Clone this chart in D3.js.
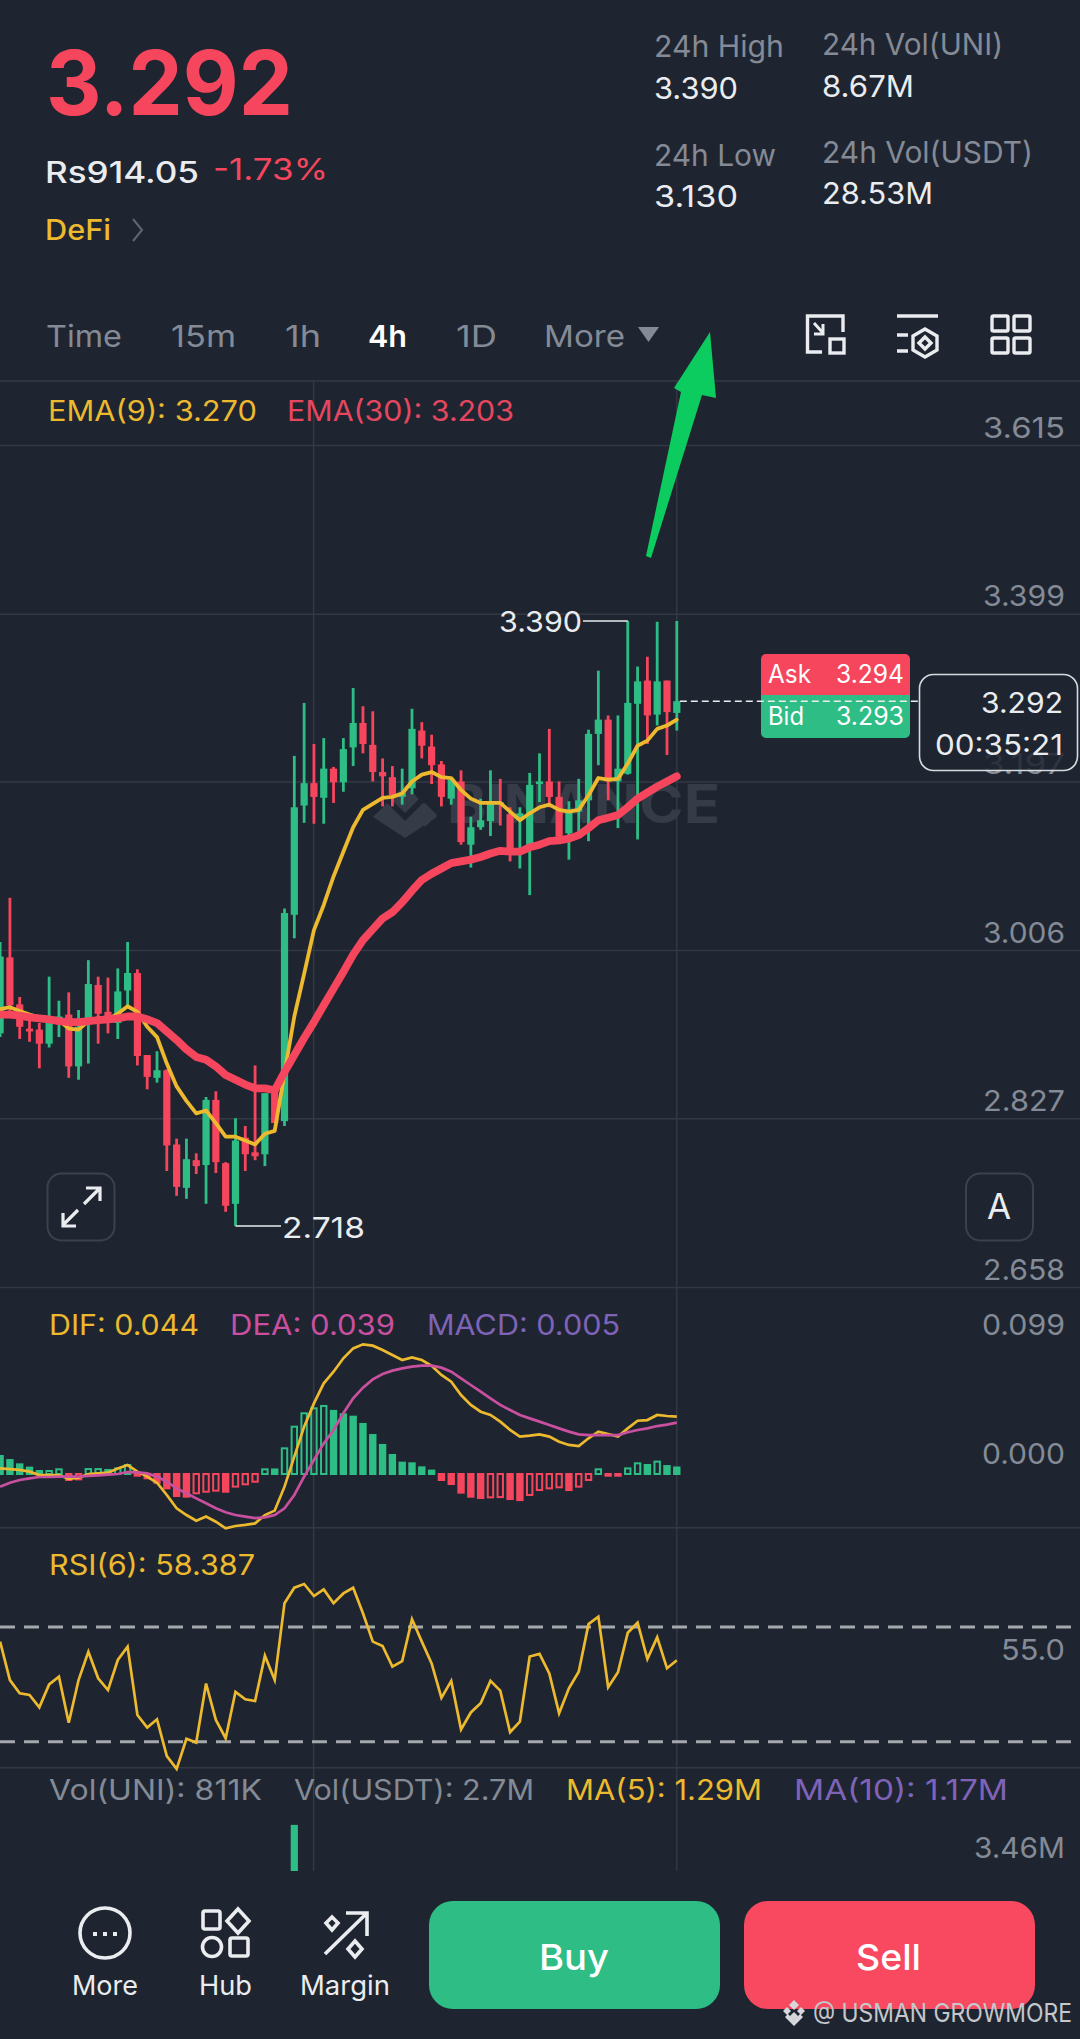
<!DOCTYPE html>
<html>
<head>
<meta charset="utf-8">
<script src="https://cdn.jsdelivr.net/npm/d3@7"></script>
<style>
  html, body { margin: 0; padding: 0; background: #1e2530; }
  svg { display: block; }
  text { font-family: Inter, "Noto Sans", sans-serif; }
</style>
</head>
<body>
<div id="chart"></div>
<script>
// candles, oldest first
const candleOpen = [2.916,2.998,2.947,2.921,2.920,2.905,2.927,2.936,2.881,2.930,2.968,2.939,2.927,2.962,2.981,2.893,2.869,2.877,2.800,2.756,2.784,2.779,2.846,2.781,2.740,2.807,2.792,2.790,2.856,2.824,3.045,3.169,3.195,3.178,3.212,3.196,3.237,3.266,3.240,3.208,3.202,3.179,3.189,3.257,3.238,3.217,3.177,3.197,3.124,3.144,3.151,3.173,3.159,3.152,3.120,3.194,3.197,3.179,3.137,3.162,3.175,3.253,3.270,3.197,3.206,3.289,3.317,3.276,3.317,3.278];
const candleHigh = [3.015,3.064,2.955,2.930,2.927,2.977,2.951,2.960,2.941,2.995,2.977,2.976,2.986,3.015,2.985,2.893,2.897,2.878,2.806,2.806,2.791,2.849,2.855,2.782,2.827,2.819,2.882,2.853,2.856,3.052,3.227,3.290,3.241,3.248,3.214,3.248,3.308,3.286,3.280,3.224,3.215,3.212,3.283,3.267,3.252,3.221,3.202,3.210,3.156,3.177,3.210,3.200,3.167,3.167,3.207,3.230,3.259,3.197,3.174,3.200,3.258,3.329,3.275,3.275,3.390,3.334,3.346,3.389,3.317,3.390];
const candleLow = [2.912,2.934,2.910,2.907,2.879,2.901,2.912,2.869,2.867,2.884,2.905,2.916,2.910,2.945,2.882,2.857,2.864,2.773,2.748,2.745,2.770,2.740,2.771,2.732,2.718,2.773,2.784,2.778,2.822,2.819,3.019,3.149,3.148,3.148,3.172,3.185,3.215,3.230,3.197,3.168,3.168,3.170,3.182,3.224,3.194,3.168,3.170,3.124,3.098,3.141,3.134,3.146,3.105,3.097,3.067,3.173,3.167,3.132,3.107,3.137,3.128,3.216,3.175,3.143,3.205,3.130,3.241,3.263,3.228,3.257];
const candleClose = [2.999,2.946,2.923,2.918,2.905,2.927,2.934,2.881,2.923,2.969,2.937,2.927,2.961,2.981,2.892,2.870,2.877,2.799,2.757,2.785,2.778,2.846,2.782,2.738,2.804,2.790,2.788,2.853,2.822,3.047,3.167,3.195,3.179,3.212,3.196,3.235,3.266,3.241,3.208,3.203,3.181,3.184,3.259,3.239,3.216,3.179,3.199,3.127,3.144,3.152,3.173,3.171,3.118,3.160,3.193,3.197,3.179,3.133,3.164,3.175,3.253,3.270,3.197,3.212,3.290,3.316,3.275,3.316,3.279,3.292];
const ema9 = [2.942,2.944,2.940,2.936,2.933,2.932,2.930,2.921,2.920,2.929,2.932,2.931,2.937,2.945,2.939,2.923,2.912,2.884,2.860,2.845,2.832,2.835,2.822,2.808,2.808,2.804,2.800,2.811,2.814,2.874,2.934,2.980,3.028,3.056,3.088,3.116,3.144,3.164,3.171,3.178,3.179,3.183,3.197,3.205,3.208,3.202,3.201,3.187,3.177,3.172,3.172,3.172,3.162,3.152,3.160,3.167,3.170,3.164,3.162,3.164,3.181,3.201,3.199,3.200,3.218,3.239,3.245,3.259,3.263,3.270];
const ema30 = [2.936,2.936,2.935,2.933,2.932,2.931,2.929,2.928,2.928,2.929,2.930,2.931,2.932,2.934,2.934,2.931,2.927,2.918,2.909,2.899,2.891,2.888,2.881,2.872,2.867,2.862,2.858,2.858,2.856,2.875,2.893,2.911,2.928,2.946,2.964,2.982,3.001,3.017,3.029,3.041,3.048,3.059,3.072,3.084,3.091,3.097,3.103,3.105,3.107,3.110,3.114,3.117,3.116,3.116,3.121,3.124,3.128,3.129,3.131,3.135,3.143,3.152,3.155,3.158,3.167,3.177,3.184,3.191,3.197,3.203];

const macdDif = [.0043,.0038,.0031,.0018,-.0008,-.0008,-.0008,-.0038,-.0028,0,.0005,.0010,.0043,.0069,.0018,-.0020,-.0067,-.0161,-.0263,-.0315,-.0358,-.0327,-.0366,-.0417,-.0399,-.0391,-.0379,-.0315,-.0281,-.0097,.0133,.0363,.0542,.0696,.0785,.0888,.0964,.0995,.0985,.0952,.0913,.0875,.0895,.0875,.0831,.0760,.0709,.0606,.0530,.0478,.0453,.0402,.0338,.0287,.0294,.0304,.0287,.0248,.0223,.0215,.0274,.0325,.0307,.0287,.0350,.0409,.0414,.0453,.0445,.0440];
const macdDea = [-.0097,-.0067,-.0046,-.0033,-.0023,-.0023,-.0020,-.0020,-.0020,-.0015,-.0010,-.0005,0,.0015,.0013,.0005,-.0020,-.0059,-.0110,-.0148,-.0187,-.0225,-.0263,-.0294,-.0315,-.0327,-.0338,-.0333,-.0315,-.0263,-.0161,-.0020,.0107,.0235,.0338,.0466,.0581,.0663,.0726,.0767,.0793,.0811,.0824,.0831,.0831,.0816,.0785,.0734,.0683,.0632,.0581,.0530,.0491,.0453,.0427,.0402,.0376,.0350,.0325,.0304,.0299,.0299,.0299,.0299,.0320,.0338,.0350,.0368,.0379,.0394];
const macdHist = [.0138,.0107,.0074,.0049,.0023,.0023,.0036,-.0046,-.0041,.0038,.0038,.0031,.0043,.0069,-.0013,-.0033,-.0067,-.0110,-.0169,-.0174,-.0148,-.0136,-.0128,-.0136,-.0097,-.0079,-.0059,.0036,.0035,.0197,.0363,.0466,.0504,.0522,.0484,.0458,.0440,.0384,.0299,.0223,.0146,.0087,.0082,.0051,.0026,-.0046,-.0077,-.0143,-.0174,-.0184,-.0179,-.0177,-.0192,-.0200,-.0161,-.0123,-.0110,-.0102,-.0123,-.0097,-.0046,.0036,-.0013,-.0013,.0043,.0082,.0069,.0095,.0061,.0050];
const rsi6 = [64.9,51.5,46.9,46.3,42.0,50.0,52.7,36.6,51.5,61.4,52.1,48.0,58.5,63.1,39.3,34.9,37.8,25.0,20.5,31.0,29.7,50.3,37.6,31.2,47.4,44.8,44.2,60.0,51.5,78.3,83.7,85.0,80.8,83.1,78.3,81.7,83.7,74.8,64.9,63.4,56.2,58.1,72.7,64.9,57.3,45.3,51.2,34.3,40.2,43.4,51.2,47.8,33.3,37.0,59.7,60.6,53.8,39.9,48.6,54.4,71.0,73.6,49.0,54.2,68.0,71.5,58.8,66.4,55.6,58.387];

// only one volume bar reaches the visible strip of the volume pane
const volIndex = [30];
const volValue = [4.59];

const priceTicks = [3.615, 3.399, 3.197, 3.006, 2.827, 2.658];
const macdTicks = [0.099, 0];
const rsiLevels = [70, 30];
const rsiTicks = [55];
const volTicks = [3.46];

const tabs = ["Time", "15m", "1h", "4h", "1D", "More"];

const config = {
    bg: "#1e2530",
    grid: "#333944",
    up: "#2ebd85",
    down: "#f6465d",
    yellow: "#ecb92f",
    pink: "#c9509f",
    purple: "#7f63b8",
    gray: "#848a96",
    white: "#eaecef"
};

const W = 1080, H = 2039;
const svg = d3.select("#chart").append("svg")
    .attr("width", W).attr("height", H)
    .style("background", config.bg);

const x = d3.scaleLinear().domain([0, candleClose.length - 1]).range([0.1, 676.8]);
const priceY = d3.scaleLog().domain([2.658, 3.615]).range([1287, 445]);
const macdY = d3.scaleLinear().domain([0, 0.099]).range([1474, 1345]);
const rsiY = d3.scaleLinear().domain([30, 70]).range([1741.7, 1627]);
const volY = d3.scaleLinear().domain([0, 3.46]).range([2000, 1868]);

// fits the string between x0 and x1, the picture is squeezed a bit sideways
const label = (str, x0, x1, y, size, color, weight) => {
    const t = svg.append("text")
        .attr("x", x0).attr("y", y)
        .attr("font-size", size)
        .attr("font-weight", weight || 400)
        .attr("fill", color)
        .text(str);
    if (x1) {
        t.attr("textLength", x1 - x0).attr("lengthAdjust", "spacingAndGlyphs");
    }
    return t;
};

const labelEnd = (str, x1, w, y, size, color, weight) => label(str, x1 - w, x1, y, size, color, weight);

const drawAxis = (scale, ticks, fmt, gridOn, dy, textW) => {
    const g = svg.append("g").attr("class", "axis")
        .call(d3.axisRight(scale).tickValues(ticks).tickSize(W).tickFormat(fmt));
    g.select(".domain").remove();
    g.selectAll("line").attr("stroke", gridOn ? config.grid : "none").attr("stroke-width", 1.5);
    g.selectAll("text")
        .attr("x", 1065).attr("dy", dy)
        .attr("text-anchor", "end")
        .attr("fill", config.gray)
        .attr("font-size", 29)
        .attr("textLength", textW)
        .attr("lengthAdjust", "spacingAndGlyphs")
        .attr("font-family", "Inter, 'Noto Sans', sans-serif");
    return g;
};

// pane separators and vertical grid
[381, 1527.7, 1767.7].forEach(y => {
    svg.append("line").attr("x1", 0).attr("x2", W).attr("y1", y).attr("y2", y)
        .attr("stroke", config.grid).attr("stroke-width", 1.5);
});
[313.6, 676.8].forEach(vx => {
    svg.append("line").attr("x1", vx).attr("x2", vx).attr("y1", 381).attr("y2", 1871)
        .attr("stroke", config.grid).attr("stroke-width", 1.5);
});

// watermark
svg.append("path").attr("d", "M405 785l14 14-14 14-14-14zM373 817l14-14 18 18 18-18 14 14-32 21zM425 803l12 12-12 12-12-12z")
    .attr("fill", "#353c48");
label("BINANCE", 447, 720, 823, 53, "#353c48", 700);

drawAxis(priceY, priceTicks, d3.format(".3f"), true, "-8", 82);

// candles
const candleIdx = d3.range(candleClose.length);
const isUp = i => candleClose[i] >= candleOpen[i];
const candles = svg.append("g").selectAll("g").data(candleIdx).enter().append("g");
candles.append("line")
    .attr("x1", i => x(i)).attr("x2", i => x(i))
    .attr("y1", i => priceY(candleHigh[i])).attr("y2", i => priceY(candleLow[i]))
    .attr("stroke", i => isUp(i) ? config.up : config.down)
    .attr("stroke-width", 2.8);
candles.append("rect")
    .attr("x", i => x(i) - 3.6).attr("width", 7.2)
    .attr("y", i => priceY(Math.max(candleOpen[i], candleClose[i])))
    .attr("height", i => Math.max(2, priceY(Math.min(candleOpen[i], candleClose[i])) - priceY(Math.max(candleOpen[i], candleClose[i]))))
    .attr("fill", i => isUp(i) ? config.up : config.down);

const priceLine = d3.line().x((d, i) => x(i)).y(d => priceY(d));
svg.append("path").datum(ema9).attr("d", priceLine)
    .attr("fill", "none").attr("stroke", config.yellow).attr("stroke-width", 3.8)
    .attr("stroke-linejoin", "round").attr("stroke-linecap", "round");
svg.append("path").datum(ema30).attr("d", priceLine)
    .attr("fill", "none").attr("stroke", config.down).attr("stroke-width", 7.8)
    .attr("stroke-linejoin", "round").attr("stroke-linecap", "round");

// high and low markers
const hiIdx = candleHigh.indexOf(d3.max(candleHigh));
const loIdx = candleLow.indexOf(d3.min(candleLow));
svg.append("path")
    .attr("d", `M${x(hiIdx)} ${priceY(candleHigh[hiIdx])}H583`)
    .attr("stroke", config.white).attr("stroke-width", 1.5).attr("fill", "none");
label(d3.format(".3f")(candleHigh[hiIdx]), 499, 582, 632, 29, config.white);
svg.append("path")
    .attr("d", `M${x(loIdx)} ${priceY(candleLow[loIdx])}H281`)
    .attr("stroke", config.white).attr("stroke-width", 1.5).attr("fill", "none");
label(d3.format(".3f")(candleLow[loIdx]), 282, 365, 1238, 29, config.white);

// ask / bid / last price tag
svg.append("path").attr("d", "M761 695V659a5 5 0 0 1 5-5H905a5 5 0 0 1 5 5V695Z").attr("fill", config.down);
svg.append("path").attr("d", "M761 695H910V733a5 5 0 0 1-5 5H766a5 5 0 0 1-5-5Z").attr("fill", config.up);
label("Ask", 768, 811, 683, 25, "#fff");
label("3.294", 836, 904, 683, 25, "#fff");
label("Bid", 768, 804, 725, 25, "#fff");
label("3.293", 836, 904, 725, 25, "#fff");
svg.append("line").attr("x1", x(69) + 3).attr("x2", 918)
    .attr("y1", priceY(candleClose[69])).attr("y2", priceY(candleClose[69]))
    .attr("stroke", config.white).attr("stroke-width", 1.5).attr("stroke-dasharray", "7 4");
svg.append("rect").attr("x", 919.5).attr("y", 674.5).attr("width", 158).attr("height", 96).attr("rx", 14)
    .attr("fill", config.bg).attr("fill-opacity", 0.85)
    .attr("stroke", "#d8dadd").attr("stroke-width", 1.6);
labelEnd("3.292", 1063, 82, 713, 29, config.white);
labelEnd("00:35:21", 1063, 128, 755, 29, config.white);

// expand and auto buttons
svg.append("rect").attr("x", 47.5).attr("y", 1173.5).attr("width", 67).attr("height", 67).attr("rx", 14)
    .attr("fill", "none").attr("stroke", "#3b414d").attr("stroke-width", 2);
svg.append("path").attr("d", "M63 1225L78 1210M63 1213V1226H76M99 1189L84 1204M86 1188H100V1201")
    .attr("fill", "none").attr("stroke", config.white).attr("stroke-width", 3.2);
svg.append("rect").attr("x", 966).attr("y", 1173.5).attr("width", 67).attr("height", 67).attr("rx", 14)
    .attr("fill", "none").attr("stroke", "#3b414d").attr("stroke-width", 2);
svg.append("text").attr("x", 999).attr("y", 1219).attr("text-anchor", "middle")
    .attr("font-size", 35).attr("fill", config.white).text("A");

// MACD pane
drawAxis(macdY, macdTicks, d3.format(".3f"), false, "-11", 83);
svg.append("g").selectAll("rect").data(macdHist).enter().append("rect")
    .attr("x", (d, i) => x(i) - 2.7).attr("width", 5.4)
    .attr("y", d => macdY(Math.max(d, 0)))
    .attr("height", d => Math.abs(macdY(d) - macdY(0)))
    .attr("fill", (d, i) => (i > 0 && d >= macdHist[i - 1]) ? "none" : (d >= 0 ? config.up : config.down))
    .attr("stroke", d => d >= 0 ? config.up : config.down)
    .attr("stroke-width", 2);
const macdLine = d3.line().x((d, i) => x(i)).y(d => macdY(d));
svg.append("path").datum(macdDif).attr("d", macdLine).attr("fill", "none")
    .attr("stroke", config.yellow).attr("stroke-width", 2.7);
svg.append("path").datum(macdDea).attr("d", macdLine).attr("fill", "none")
    .attr("stroke", config.pink).attr("stroke-width", 2.7);

// RSI pane
rsiLevels.forEach(v => {
    svg.append("line").attr("x1", 0).attr("x2", W).attr("y1", rsiY(v)).attr("y2", rsiY(v))
        .attr("stroke", "#a5a8ac").attr("stroke-width", 3).attr("stroke-dasharray", "15 9");
});
drawAxis(rsiY, rsiTicks, d3.format(".1f"), false, "-11", 64);
svg.append("path").datum(rsi6)
    .attr("d", d3.line().x((d, i) => x(i)).y(d => rsiY(d)))
    .attr("fill", "none").attr("stroke", config.yellow).attr("stroke-width", 2.7);

// volume pane, cut off by the bottom bar
svg.append("clipPath").attr("id", "volClip").append("rect")
    .attr("x", 0).attr("y", 1768).attr("width", W).attr("height", 103);
svg.append("g").attr("clip-path", "url(#volClip)").selectAll("rect").data(volIndex).enter().append("rect")
    .attr("x", i => x(i) - 3.6).attr("width", 7.2)
    .attr("y", (d, k) => volY(volValue[k]))
    .attr("height", (d, k) => volY(0) - volY(volValue[k]))
    .attr("fill", config.up);
drawAxis(volY, volTicks, d => d3.format(".2f")(d) + "M", false, "-11", 91);

// header
label("3.292", 46, 293, 115, 90, config.down, 700);
label("Rs914.05", 45, 199, 183, 30, config.white, 500);
label("-1.73%", 213, 328, 180, 30, config.down);
label("DeFi", 45, 111, 240, 28, config.yellow, 500);
svg.append("path").attr("d", "M133 219L142 230L133 241").attr("fill", "none")
    .attr("stroke", "#5e6673").attr("stroke-width", 2);

label("24h High", 654, 784, 57, 30, config.gray);
label("3.390", 654, 738, 99, 30, config.white);
label("24h Low", 654, 776, 166, 30, config.gray);
label("3.130", 654, 738, 207, 30, config.white);
label("24h Vol(UNI)", 822, 1003, 55, 30, config.gray);
label("8.67M", 822, 914, 97, 30, config.white);
label("24h Vol(USDT)", 822, 1033, 163, 30, config.gray);
label("28.53M", 822, 933, 204, 30, config.white);

// interval tabs
const tabX0 = [46, 171, 285, 368, 456, 544];
const tabX1 = [122, 236, 321, 407, 497, 625];
tabs.forEach((t, i) => {
    label(t, tabX0[i], tabX1[i], 347, 30, t === "4h" ? "#fff" : config.gray, t === "4h" ? 600 : 400);
});
svg.append("path").attr("d", "M638 327H659L648.5 342Z").attr("fill", config.gray);

// tool icons
const icons = svg.append("g").attr("fill", "none").attr("stroke", config.white).attr("stroke-width", 3.4);
icons.append("path").attr("d", "M822 352H807.5V316H843V332");
icons.append("rect").attr("x", 830).attr("y", 339).attr("width", 14).attr("height", 14);
icons.append("path").attr("d", "M814 323L823 333M823 324V334H814").attr("stroke-width", 3);
icons.append("path").attr("d", "M897 316H938M897 335H908M897 351H908");
icons.append("path").attr("d", "M925 329L937 336V350L925 357L913 350V336Z");
icons.append("path").attr("d", "M925 337L931 343L925 349L919 343Z");
[[992, 316], [1014, 316], [992, 338], [1014, 338]].forEach(p => {
    icons.append("rect").attr("x", p[0]).attr("y", p[1]).attr("width", 16).attr("height", 15).attr("rx", 1.5);
});

// hand drawn green arrow on the screenshot
svg.append("path")
    .attr("d", "M710 332L716 398L702 395L651 558L646 556L681 392L674 388Z")
    .attr("fill", "#0ccb5f");

// pane titles
label("EMA(9): 3.270", 48, 257, 421, 28, config.yellow);
label("EMA(30): 3.203", 287, 514, 421, 28, "#e4475f");
label("DIF: 0.044", 49, 199, 1335, 28, config.yellow);
label("DEA: 0.039", 230, 395, 1335, 28, config.pink);
label("MACD: 0.005", 427, 620, 1335, 28, config.purple);
label("RSI(6): 58.387", 49, 255, 1575, 28, config.yellow);
label("Vol(UNI): 811K", 49, 262, 1800, 28, config.gray);
label("Vol(USDT): 2.7M", 294, 534, 1800, 28, config.gray);
label("MA(5): 1.29M", 566, 762, 1800, 28, config.yellow);
label("MA(10): 1.17M", 794, 1008, 1800, 28, config.purple);

// bottom bar
const nav = svg.append("g").attr("fill", "none").attr("stroke", config.white).attr("stroke-width", 3.6);
nav.append("circle").attr("cx", 105).attr("cy", 1933).attr("r", 25);
[95, 105, 115].forEach(cx => {
    svg.append("rect").attr("x", cx - 2).attr("y", 1932).attr("width", 4).attr("height", 4).attr("fill", config.white);
});
nav.append("rect").attr("x", 203).attr("y", 1911).attr("width", 17).attr("height", 18).attr("rx", 2);
nav.append("path").attr("d", "M238 1909L249 1921L238 1933L227 1921Z");
nav.append("circle").attr("cx", 212).attr("cy", 1947).attr("r", 9.5);
nav.append("rect").attr("x", 230).attr("y", 1938).attr("width", 18).attr("height", 18).attr("rx", 2);
nav.append("path").attr("d", "M325 1954L367 1913M346 1913H367V1936");
nav.append("path").attr("d", "M332 1917L338 1923L332 1930L326 1923Z");
nav.append("path").attr("d", "M355 1941L362 1949L355 1957L348 1949Z");
label("More", 72, 138, 1995, 27, config.white);
label("Hub", 199, 252, 1995, 27, config.white);
label("Margin", 300, 390, 1995, 27, config.white);

svg.append("rect").attr("x", 429).attr("y", 1901).attr("width", 291).attr("height", 108).attr("rx", 24).attr("fill", config.up);
svg.append("rect").attr("x", 744).attr("y", 1901).attr("width", 291).attr("height", 108).attr("rx", 24).attr("fill", "#f84960");
label("Buy", 539, 609, 1970, 36, "#fff", 500);
label("Sell", 856, 921, 1970, 36, "#fff", 500);

// repost credit
svg.append("path").attr("d", "M794 2000l5 5-5 5-5-5zM783 2011l4-4 4 4-4 4zM805 2011l-4-4-4 4 4 4zM794 2012l4 4-4 4-4-4zM794 2026l-9-9 3-3 6 6 6-6 3 3z")
    .attr("fill", "#d5d7da");
label("@ USMAN GROWMORE", 813, 1072, 2022, 25, "#c4c7cb");
</script>
</body>
</html>
